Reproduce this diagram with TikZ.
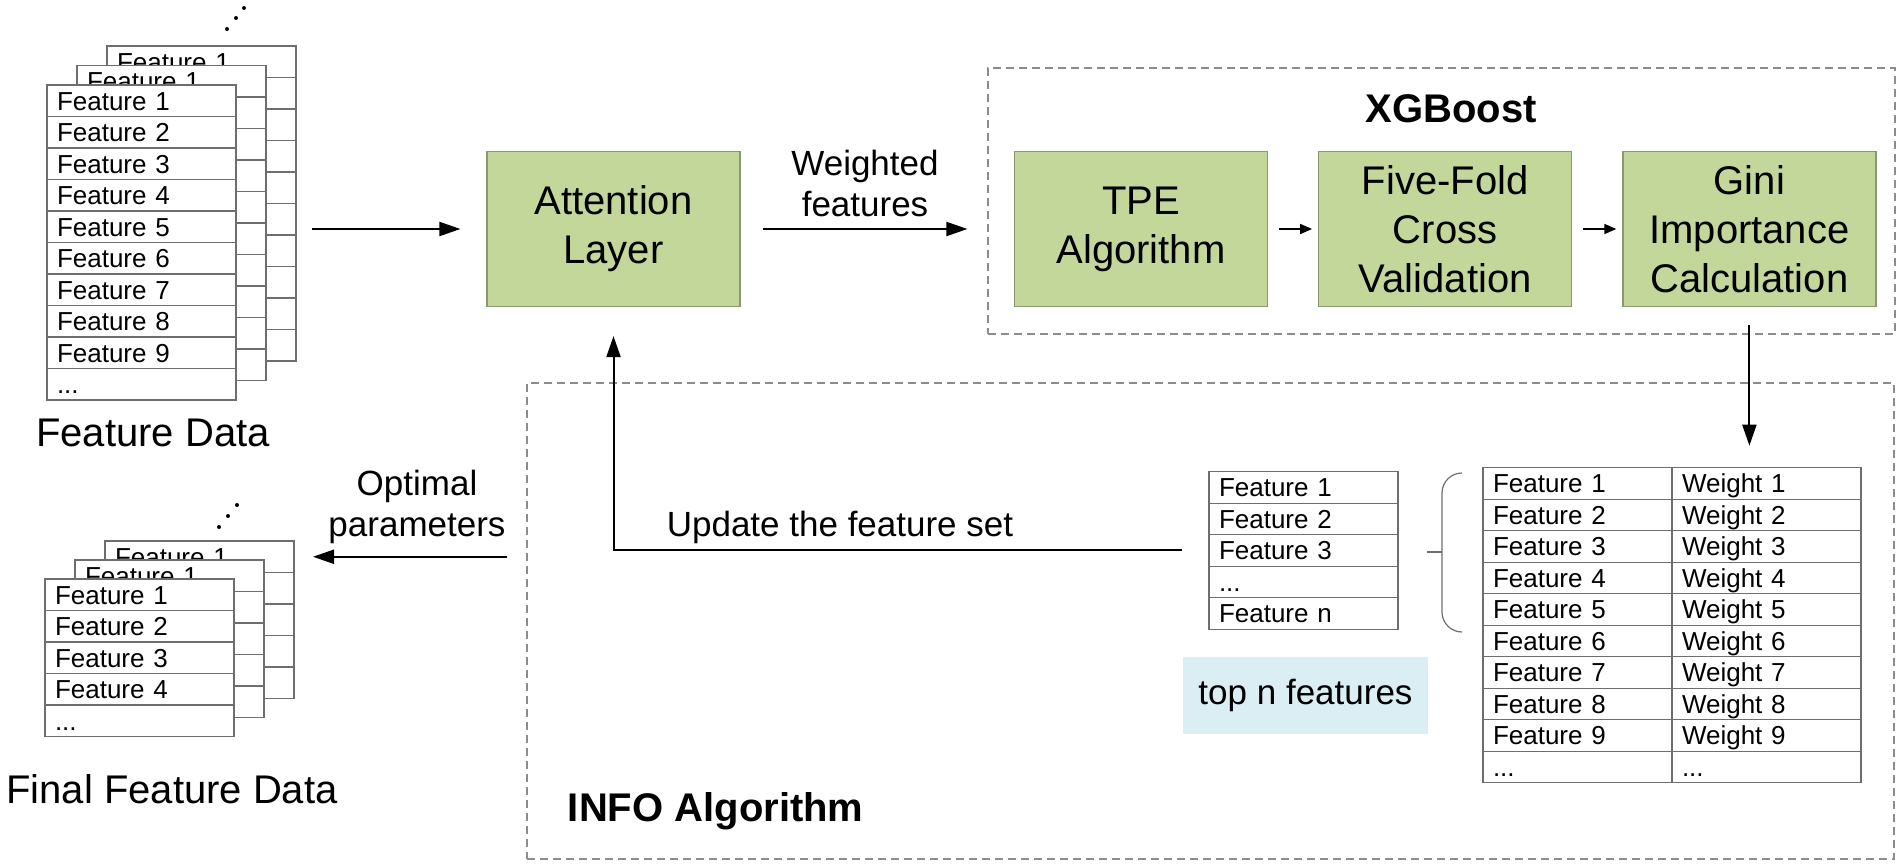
\documentclass[tikz,border=0pt]{standalone}
\usepackage{fontspec}
\setmainfont{Liberation Sans}
\usetikzlibrary{arrows.meta,positioning,calc}

\definecolor{boxgreen}{RGB}{196,215,155}
\definecolor{boxedge}{RGB}{140,150,115}
\definecolor{tagblue}{RGB}{218,238,243}
\definecolor{linegray}{RGB}{110,110,110}
\definecolor{dashgray}{RGB}{140,140,140}

\newcommand{\celldots}{...}

\tikzset{
  block/.style={draw=boxedge, fill=boxgreen, line width=0.6pt, minimum width=126.5pt,
    minimum height=77.5pt, align=center, font=\fontsize{20}{24.5}\selectfont},
  cell/.style={draw=linegray, fill=white, line width=0.6pt, minimum width=94.5pt,
    minimum height=15.75pt, text width=84.5pt, inner xsep=5pt, inner ysep=0pt, outer sep=0pt,
    text height=10.5pt, text depth=1.2pt, align=left, font=\fontsize{13}{15}\selectfont,
    anchor=north west},
  groupbox/.style={draw=dashgray, dash pattern=on 4pt off 2.5pt, line width=0.6pt},
  grouptitle/.style={font=\fontsize{20}{24}\selectfont\bfseries, anchor=base},
  lbl/.style={align=center, font=\fontsize{17.5}{20.5}\selectfont},
  biglbl/.style={font=\fontsize{20}{24}\selectfont, anchor=base},
  arr/.style={-{Triangle[length=10.5pt,width=7pt]}, line width=1pt},
  smallarr/.style={-{Triangle[length=6pt,width=5pt]}, line width=0.8pt, shorten <=5.5pt, shorten >=3pt},
  brace/.style={draw=linegray, line width=0.6pt},
}

\begin{document}
\begin{tikzpicture}[x=0.5pt, y=-0.5pt]
\useasboundingbox (0,0) rectangle (1901,866);

% dashed groups
\node[groupbox, minimum width=453.5pt, minimum height=133pt] (xgb) at (1441.5,201) {};
\node[grouptitle] (xgbtitle) at (1451,122.7) {XGBoost};
\node[groupbox, minimum width=683.5pt, minimum height=238pt] (info) at (1210.5,621) {};
\node[grouptitle] (infotitle) at (715.7,821.7) {INFO Algorithm};

% feature data stack
\foreach \dx/\dy/\n in {60/-39/b, 30/-19.5/m} {
  \node[cell] (fd\n1) at ({47+\dx},{85+\dy}) {Feature 1};
  \foreach \i in {2,...,10}
    \node[cell] (fd\n\i) at ({47+\dx},{85+\dy+31.5*(\i-1)}) {};
}
\foreach \i in {1,...,9}
  \node[cell] (fd\i) at (47,{85+31.5*(\i-1)}) {Feature \i};
\node[cell] (fd10) at (47,{85+31.5*9}) {\celldots};
\foreach \p in {(227,29),(236,18),(244,8)}
  \fill \p circle (1pt);
\node[biglbl] (fdlbl) at (153,446.7) {Feature Data};

% final feature data stack
\foreach \dx/\dy/\n in {60/-38/b, 30/-19/m} {
  \node[cell] (fn\n1) at ({45+\dx},{579+\dy}) {Feature 1};
  \foreach \i in {2,...,5}
    \node[cell] (fn\n\i) at ({45+\dx},{579+\dy+31.5*(\i-1)}) {};
}
\foreach \i in {1,...,4}
  \node[cell] (fn\i) at (45,{579+31.5*(\i-1)}) {Feature \i};
\node[cell] (fn5) at (45,{579+31.5*4}) {\celldots};
\foreach \p in {(219,527),(228,516),(237,505)}
  \fill \p circle (1pt);
\node[biglbl] (fnlbl) at (172,803) {Final Feature Data};

% model blocks
\node[block] (att) at (613.5,229) {Attention\\Layer};
\node[block] (tpe) at (1141,229) {TPE\\Algorithm};
\node[block, right=25pt of tpe] (ff) {Five-Fold\\Cross\\Validation};
\node[block, right=25pt of ff] (gini) {Gini\\Importance\\Calculation};

% weight table
\foreach \i in {1,...,9} {
  \node[cell] (wf\i) at (1483,{467.7+31.5*(\i-1)}) {Feature \i};
  \node[cell] (ww\i) at (1672,{467.7+31.5*(\i-1)}) {Weight \i};
}
\node[cell] (wf10) at (1483,{467.7+31.5*9}) {\celldots};
\node[cell] (ww10) at (1672,{467.7+31.5*9}) {\celldots};

% top n table
\foreach \i/\t in {1/Feature 1, 2/Feature 2, 3/Feature 3, 4/\celldots, 5/Feature n}
  \node[cell] (tn\i) at (1209,{471.7+31.5*(\i-1)}) {\t};
\node[fill=tagblue, minimum width=122.5pt, minimum height=38.7pt,
  font=\fontsize{17.5}{20}\selectfont] (tnlbl) at (1305.5,695.4) {top n features};

% brace
\draw[brace] (1462,473) to[out=180,in=90] (1442,493) -- (1442,612) to[out=-90,in=180] (1462,632);
\draw[brace] (1427,552) -- (1442,552);

% connectors
\draw[arr] ([xshift=8pt]att.west -| fdb1.east) -- ([xshift=-13pt]att.west);
\draw[arr] ([xshift=11pt]att.east) -- ([xshift=-10pt]att.east -| xgb.west);
\node[lbl] (wlbl) at (865,183) {Weighted\\features};
\draw[smallarr] (tpe) -- (ff);
\draw[smallarr] (ff) -- (gini);
\draw[arr] ([yshift=-9pt]gini.south) -- ([yshift=11pt]gini.south |- ww1.north);
\draw[arr] ([xshift=-13.5pt]tn3.west) -| ([yshift=-14.5pt]att.south);
\node[lbl, anchor=base] (ulbl) at (840,536.7) {Update the feature set};
\draw[arr] ([xshift=-9.5pt]fnb1.east -| info.west) -- ([xshift=9.5pt]fnb1.east);
\node[lbl] (olbl) at (417,507) {Optimal\\parameters};
\end{tikzpicture}
\end{document}
